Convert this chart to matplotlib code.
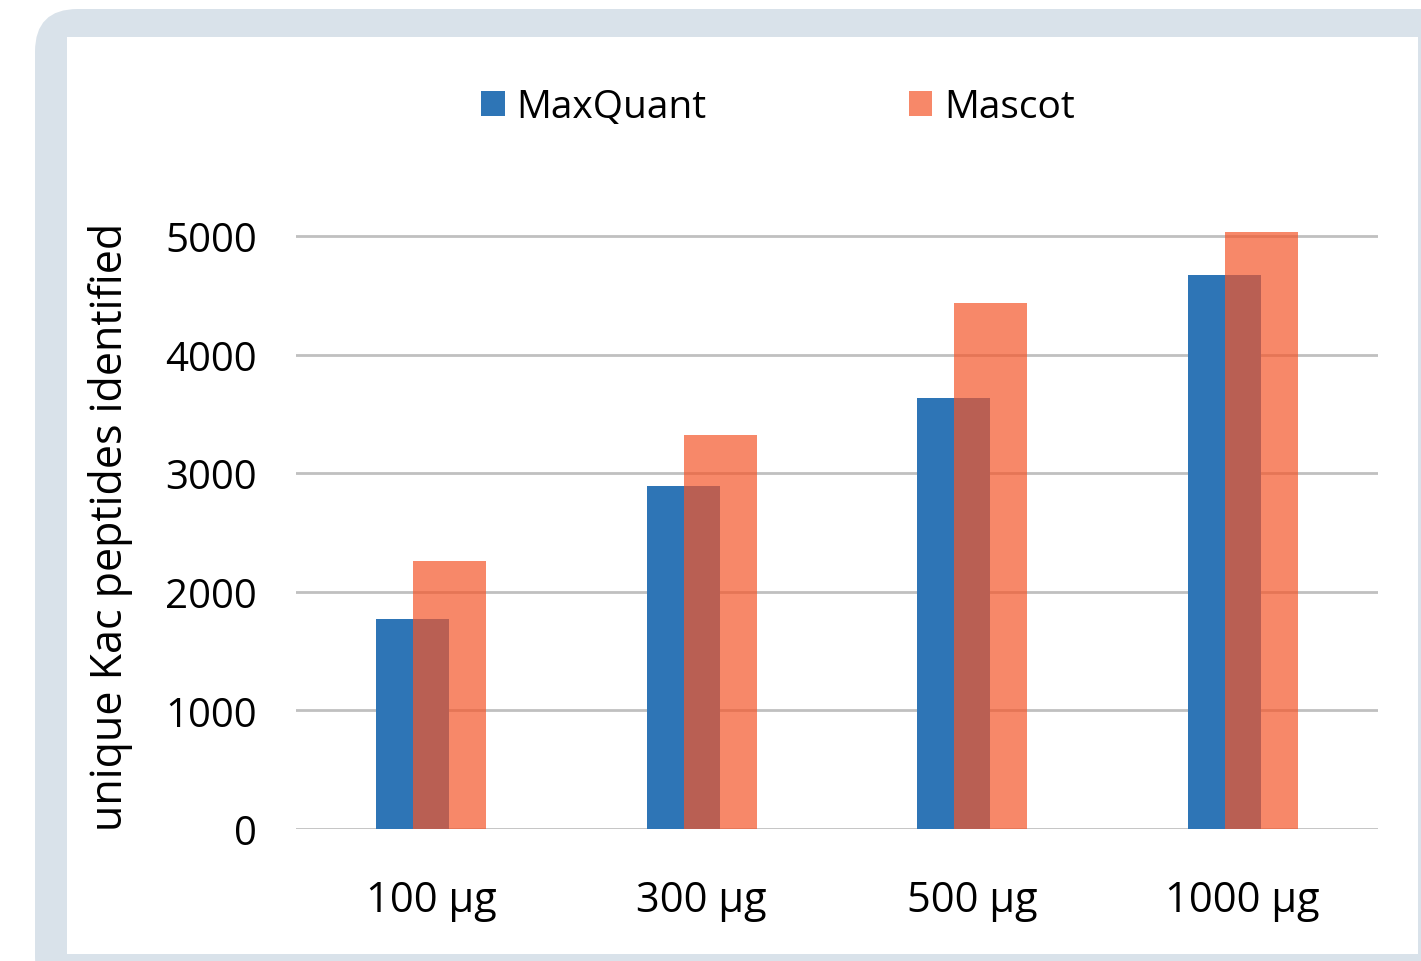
import numpy as np
import matplotlib.pyplot as plt
from matplotlib.patches import FancyBboxPatch, Rectangle

# data
amounts = ['100 µg', '300 µg', '500 µg', '1000 µg']
maxquant = [1770, 2890, 3635, 4670]
mascot = [2260, 3320, 4435, 5035]

plt.rcParams['font.family'] = ['Open Sans', 'DejaVu Sans']

W, H = 1421, 962
fig = plt.figure(figsize=(W / 100, H / 100), dpi=100)

# grey-blue rounded frame + white panel
frame = FancyBboxPatch((35 / W, 1 - 1000 / H), 1460 / W, 990 / H,
                       boxstyle='round,pad=0,rounding_size=0.03',
                       transform=fig.transFigure, facecolor='#d9e2ea',
                       edgecolor='none', zorder=-2, mutation_aspect=W / H)
fig.patches.append(frame)
panel = Rectangle((67 / W, 1 - 955 / H), (1418 - 67) / W, (955 - 38) / H,
                  transform=fig.transFigure, facecolor='white',
                  edgecolor='none', zorder=-1)
fig.patches.append(panel)

ax = fig.add_axes([296 / W, 1 - 830 / H, (1378 - 296) / W, 0.6411])
ax.set_facecolor('none')

x = np.arange(len(amounts))
w = 0.27
off = 0.068
ax.bar(x - off, maxquant, w, color='#2e75b6', label='MaxQuant', zorder=2)
ax.bar(x + off, mascot, w, color='#f5562a', alpha=0.7, label='Mascot', zorder=3)

ax.set_xlim(-0.5, 3.5)
ax.set_ylim(0, 5200)
ax.set_yticks(range(0, 5001, 1000))
ax.yaxis.grid(True, color='#c0c0c0', linewidth=2, zorder=1)
ax.set_axisbelow(True)
for s in ax.spines.values():
    s.set_visible(False)
ax.tick_params(length=0, colors='black')
ax.tick_params(axis='y', pad=28, labelsize=29)
ax.tick_params(axis='x', pad=36, labelsize=30)
ax.set_xticks(x)
ax.set_xticklabels(amounts)
ax.set_ylabel('unique Kac peptides identified', fontsize=31)
ax.yaxis.set_label_coords((133 - 296) / 1082, 0.491)

fig.legend(loc='center', bbox_to_anchor=(778 / W, 1 - 108 / H), ncol=2,
           frameon=False, fontsize=28, handlelength=0.6, handleheight=0.6,
           handletextpad=0.3, columnspacing=5.2)

fig.savefig('out.png', dpi=100)
